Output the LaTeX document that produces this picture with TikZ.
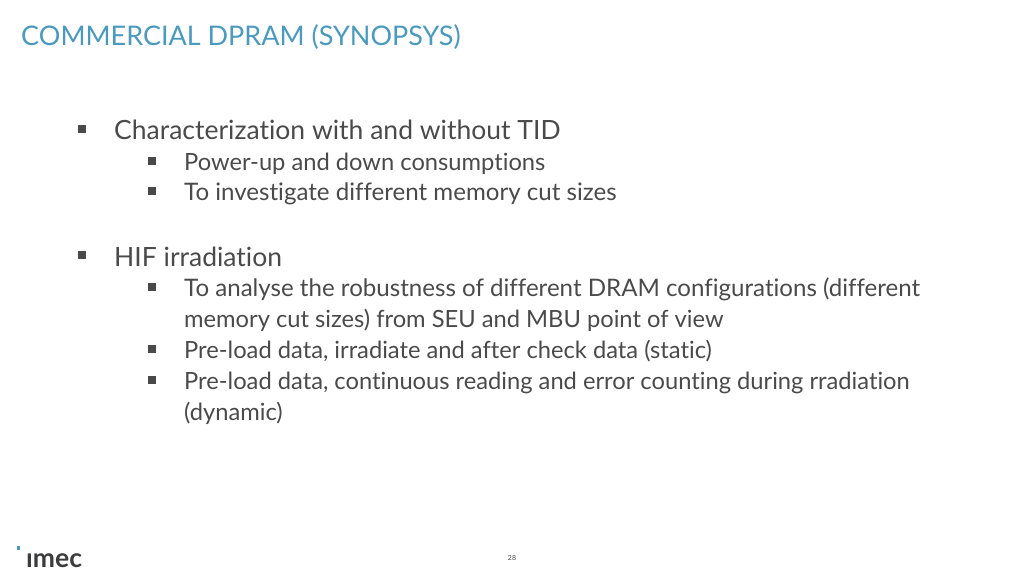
\documentclass[tikz,border=0pt]{standalone}
\usepackage{fontspec}
\setmainfont{Lato}[Ligatures=NoCommon]
\usetikzlibrary{positioning}
\definecolor{titleblue}{HTML}{4A9ABF}
\definecolor{bodygrey}{HTML}{4A4A4A}
\definecolor{logogrey}{HTML}{3C3C3C}
\begin{document}
\begin{tikzpicture}[x=1pt, y=1pt,
        title/.style={anchor=base west, inner sep=0pt, text=titleblue, font=\fontsize{27}{27}\selectfont},
        big/.style={anchor=base west, inner sep=0pt, text=bodygrey, font=\fontsize{26.5}{26.5}\selectfont},
        small/.style={anchor=base west, inner sep=0pt, text=bodygrey, font=\fontsize{23.7}{23.7}\selectfont},
        wide/.style={small, font=\fontsize{24.1}{24.1}\selectfont},
        bullet/.style={fill=bodygrey, inner sep=0pt, minimum size=8pt, anchor=center}
        ]
        \useasboundingbox (0,0) rectangle (1024,576);
        \node[title] (head) at (21,576-45.5) {COMMERCIAL DPRAM (SYNOPSYS)};
        % first block
        \node[bullet] (m1) at (82,576-129) {};
        \node[big] (a) at (114,576-140) {Characterization with and without TID};
        \node[bullet] (m2) at (152,576-161) {};
        \node[small] (a1) at (184,576-171) {Power-up and down consumptions};
        \node[bullet] (m3) at (152,576-191) {};
        \node[wide] (a2) at (184,576-201) {To investigate different memory cut sizes};
        % second block
        \node[bullet] (m4) at (82,576-255) {};
        \node[big] (b) at (114,576-267) {HIF irradiation};
        \node[bullet] (m5) at (152,576-287) {};
        \node[wide] (b1) at (184,576-297) {To analyse the robustness of different DRAM configurations (different};
        \node[small] (b2) at (184,576-327) {memory cut sizes) from SEU and MBU point of view};
        \node[bullet] (m6) at (152,576-349) {};
        \node[small] (b3) at (184,576-358) {Pre-load data, irradiate and after check data (static)};
        \node[bullet] (m7) at (152,576-380) {};
        \node[small] (b4) at (184,576-389) {Pre-load data, continuous reading and error counting during rradiation};
        \node[small] (b5) at (184,576-420) {(dynamic)};
        % footer
        \node[fill=titleblue, inner sep=0pt, minimum size=3.5pt] (dot) at (18.5,576-548) {};
        \node[anchor=base west, inner sep=0pt, text=logogrey, font=\fontsize{26.5}{26.5}\selectfont\bfseries] (logo) at (26,576-567) {ımec};
        \node[inner sep=0pt, text=bodygrey, font=\fontsize{7}{7}\selectfont] (page) at (512,576-558) {28};
      \end{tikzpicture}
\end{document}
